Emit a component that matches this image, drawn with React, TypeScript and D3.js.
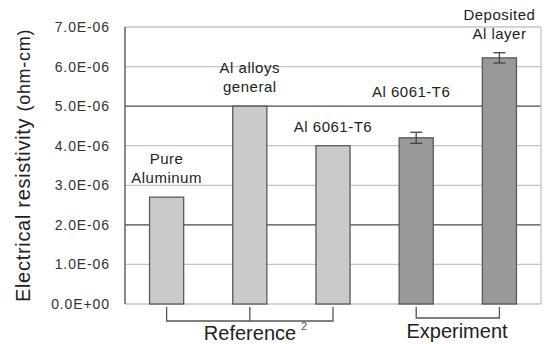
import React from "react";
import * as d3 from "d3";

const categories = ["Pure Aluminum", "Al alloys general", "Al 6061-T6 (ref)", "Al 6061-T6 (exp)", "Deposited Al layer"];
const labelLines = [["Pure", "Aluminum"], ["Al alloys", "general"], ["Al 6061-T6"], ["Al 6061-T6"], ["Deposited", "Al layer"]];
const values = [2.7e-6, 5.0e-6, 4.0e-6, 4.2e-6, 6.22e-6];
const errors = [0, 0, 0, 0.14e-6, 0.13e-6];
const groups = ["ref", "ref", "ref", "exp", "exp"];
const yTicks = [0, 1e-6, 2e-6, 3e-6, 4e-6, 5e-6, 6e-6, 7e-6];
const yTickLabels = ["0.0E+00", "1.0E-06", "2.0E-06", "3.0E-06", "4.0E-06", "5.0E-06", "6.0E-06", "7.0E-06"];
const darkGrid = [2e-6, 5e-6];

const W = 546, H = 344;
const m = { left: 125, right: 5, top: 27, bottom: 40 };

export default function App() {
  const x = d3.scaleBand<string>().domain(categories).range([m.left, W - m.right]).paddingInner(0.59).paddingOuter(0.295);
  const y = d3.scaleLinear().domain([0, 7e-6]).range([H - m.bottom, m.top]);
  const font = "'Liberation Sans', Arial, sans-serif";
  const cx = (i: number) => (x(categories[i]) as number) + x.bandwidth() / 2;
  const labelY = (i: number) => y(values[i] + errors[i]);
  const bracketTop = y(0) + 3;
  return (
    <svg width={W} height={H} style={{ position: "absolute", left: 0, top: 0 }} fontFamily={font}>
      <rect width={W} height={H} fill="#fff" />
      {yTicks.map((t, i) => (
        <line key={"g" + i} x1={m.left} x2={W - m.right} y1={y(t)} y2={y(t)}
          stroke={darkGrid.includes(t) ? "#4a4a4a" : "#c4c4c4"} strokeWidth={1.3} />
      ))}
      <line x1={W - m.right} x2={W - m.right} y1={y(7e-6)} y2={y(0)} stroke="#c4c4c4" strokeWidth={1.3} />
      <line x1={m.left} x2={m.left} y1={y(7e-6)} y2={y(0)} stroke="#4a4a4a" strokeWidth={1.3} />
      {yTicks.map((t, i) => (
        <text key={"t" + i} x={110} y={y(t)} dy="0.36em" textAnchor="end" fontSize={14} letterSpacing={0.9} fill="#333">
          {yTickLabels[i]}
        </text>
      ))}
      {values.map((v, i) => (
        <rect key={"b" + i} x={x(categories[i])} y={y(v)} width={x.bandwidth()} height={y(0) - y(v)}
          fill={groups[i] === "ref" ? "#cacaca" : "#999999"} stroke="#5a5a5a" strokeWidth={1.3} />
      ))}
      {values.map((v, i) => errors[i] > 0 ? (
        <g key={"e" + i} stroke="#444" strokeWidth={1.3}>
          <line x1={cx(i)} x2={cx(i)} y1={y(v + errors[i])} y2={y(v - errors[i])} />
          <line x1={cx(i) - 6} x2={cx(i) + 6} y1={y(v + errors[i])} y2={y(v + errors[i])} />
          <line x1={cx(i) - 6} x2={cx(i) + 6} y1={y(v - errors[i])} y2={y(v - errors[i])} />
        </g>
      ) : null)}
      {labelLines.map((lines, i) => {
        const base = i === 3 ? y(5e-6) - 9 : labelY(i) - 14;
        return lines.map((s, j) => (
          <text key={"l" + i + j} x={cx(i) - (i === 3 ? 5 : 0)} y={base - (lines.length - 1 - j) * 19} textAnchor="middle" fontSize={15} letterSpacing={0.5} fill="#222">
            {s}
          </text>
        ));
      })}
      <g stroke="#555" strokeWidth={1.3} fill="none">
        <path d={`M${cx(0)},${bracketTop}V${bracketTop + 14}H${cx(2)}V${bracketTop}`} />
        <line x1={cx(1)} x2={cx(1)} y1={bracketTop} y2={bracketTop + 14} />
        <path d={`M${cx(3)},${bracketTop}V${bracketTop + 11}H${cx(4)}V${bracketTop}`} />
      </g>
      <text x={250} y={340} textAnchor="middle" fontSize={20} fill="#222">Reference</text>
      <text x={304} y={330} textAnchor="middle" fontSize={11} fill="#555">2</text>
      <text x={457} y={338} textAnchor="middle" fontSize={20} fill="#222">Experiment</text>
      <text transform={`translate(30,${(y(0) + y(7e-6)) / 2}) rotate(-90)`} textAnchor="middle" fontSize={20} letterSpacing={0.7} fill="#222">
        Electrical resistivity <tspan fontSize={18}>(ohm-cm)</tspan>
      </text>
    </svg>
  );
}
